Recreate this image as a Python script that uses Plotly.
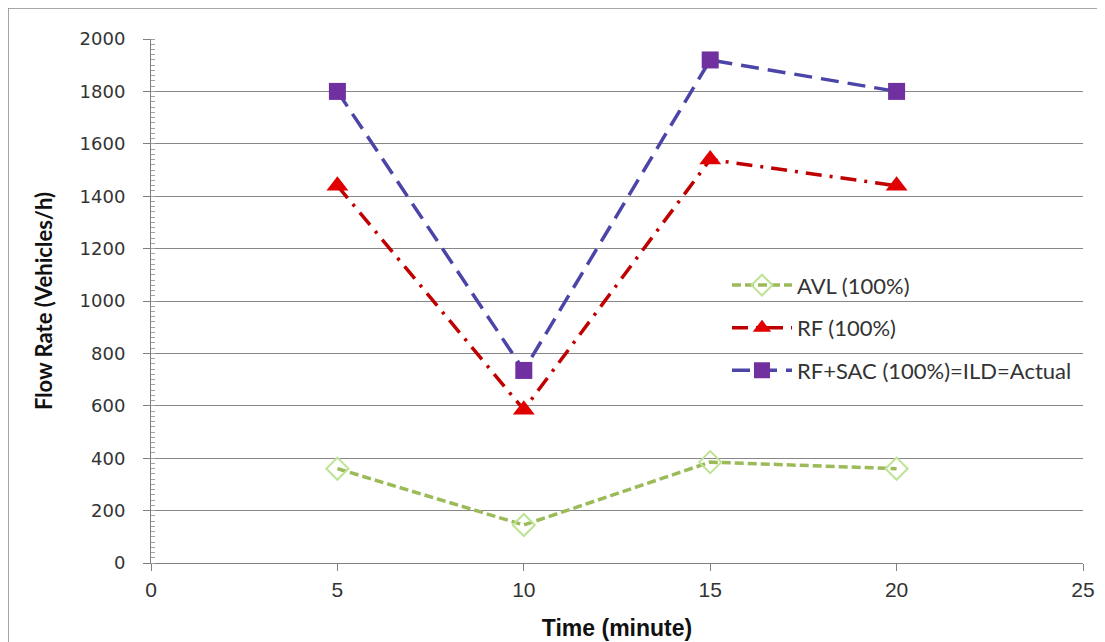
import plotly.graph_objects as go

time_min = [5, 10, 15, 20]
avl = [360, 145, 385, 360]
rf = [1440, 585, 1540, 1440]
rf_sac = [1800, 735, 1920, 1800]

series_names = ["AVL (100%)", "RF (100%)", "RF+SAC (100%)=ILD=Actual"]

fig = go.Figure()
fig.add_trace(go.Scatter(
    x=time_min, y=avl, name=series_names[0], mode="lines+markers", legendgroup="a",
    line=dict(color="#9BBB59", width=3.5, dash="9px,4px"),
    marker=dict(symbol="diamond-open", size=17, color="#BDE394", line=dict(color="#BDE394", width=2)),
))
fig.add_trace(go.Scatter(
    x=time_min, y=rf, name=series_names[1], mode="lines+markers", legendgroup="b",
    line=dict(color="#C00000", width=3.5, dash="16px,8px,3px,8px"),
    marker=dict(symbol="triangle-up", size=19, color="#E00000", line=dict(width=0)),
))
fig.add_trace(go.Scatter(
    x=time_min, y=rf_sac, name=series_names[2], mode="lines+markers", legendgroup="c",
    line=dict(color="#4B45A8", width=3.5, dash="18px,9px"),
    marker=dict(symbol="square", size=17, color="#7030A0", line=dict(width=0)),
))

fig.update_layout(
    width=1097, height=634,
    margin=dict(l=143, r=22, t=31, b=79),
    paper_bgcolor="white", plot_bgcolor="white",
    font=dict(family="Lato, sans-serif", size=20, color="#333333"),
    showlegend=True,
    legend=dict(x=0.618, y=0.57, xanchor="left", yanchor="top", bgcolor="rgba(0,0,0,0)",
                itemwidth=60,
                font=dict(family="Lato, sans-serif", size=22, color="#333333"), tracegroupgap=11),
    xaxis=dict(range=[0, 25], dtick=5, tick0=0, showgrid=False, zeroline=False,
               showline=True, linecolor="#808080", linewidth=1, automargin=False,
               ticks="outside", ticklen=7, tickcolor="#808080", ticklabelstandoff=1,
               tickfont=dict(family="Liberation Sans Narrow, sans-serif", size=21, color="#333333"),
               title=dict(text="<b>Time (minute)</b>", standoff=19,
                          font=dict(family="Liberation Sans Narrow, sans-serif", size=23, color="#111111"))),
    yaxis=dict(range=[0, 2000], dtick=200, showgrid=True, gridcolor="#878787", gridwidth=1,
               zeroline=False, showline=True, linecolor="#808080", linewidth=1,
               ticks="outside", ticklen=7, tickcolor="#808080", ticklabelstandoff=14,
               tickfont=dict(family="DejaVu Sans, sans-serif", size=18, color="#333333"),
               minor=dict(dtick=20, ticks="inside", ticklen=4, tickcolor="#A0A0A0", showgrid=False),
               title=dict(text="<b>Flow Rate (Vehicles/h)</b>", standoff=20,
                          font=dict(family="Lato, sans-serif", size=22, color="#111111"))),
)

fig.add_shape(type="rect", xref="paper", yref="paper",
              x0=-0.1534, x1=1.0215, y0=-0.17, y1=1.0592,
              line=dict(color="#8C8C8C", width=1.5), fillcolor="rgba(0,0,0,0)", layer="below")

fig.write_html("out.html")
